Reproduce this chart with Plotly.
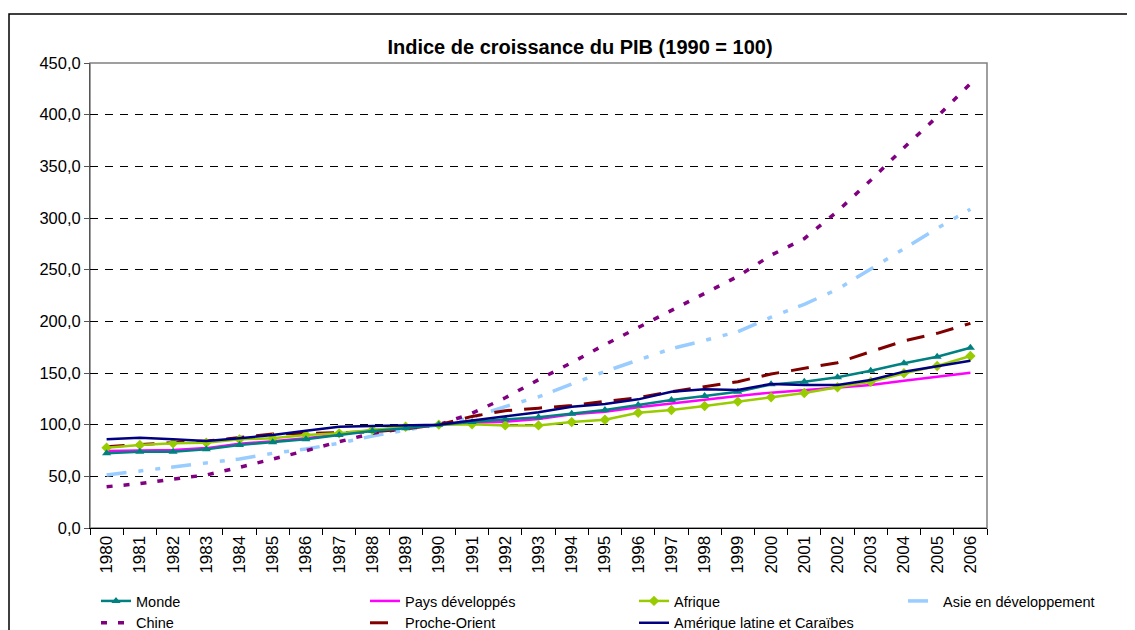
import plotly.graph_objects as go

years = [str(y) for y in range(1980, 2007)]

monde = [72.3, 73.8, 73.8, 76.1, 80.3, 82.9, 85.8, 90.0, 93.9, 96.5, 100.0, 102.5, 105.2, 107.1, 110.5,
         114.2, 119.0, 123.9, 127.7, 131.9, 139.0, 141.6, 145.8, 152.2, 159.4, 165.8, 174.5]
pays_dev = [74.5, 75.0, 75.5, 77.3, 81.5, 84.0, 86.8, 90.5, 94.5, 97.5, 100.0, 101.8, 102.9, 105.5, 110.0,
            112.6, 116.8, 120.6, 124.5, 127.7, 131.0, 133.5, 136.2, 138.4, 142.6, 146.4, 150.3]
afrique = [77.7, 80.3, 82.0, 82.6, 85.8, 86.8, 90.0, 91.6, 94.8, 98.0, 100.0, 100.3, 99.3, 99.3, 102.5,
           104.8, 111.6, 114.2, 118.0, 122.3, 126.5, 130.6, 136.2, 141.6, 149.7, 156.8, 166.5]
asie = [51.3, 55.2, 58.4, 62.6, 66.8, 72.3, 76.5, 82.0, 89.0, 94.8, 100.0, 107.0, 117.5, 127.0, 139.5,
        151.5, 162.5, 173.5, 181.5, 190.0, 204.0, 216.5, 231.0, 250.5, 270.0, 290.0, 308.5]
chine = [40.0, 42.9, 47.4, 51.3, 58.7, 66.5, 74.8, 83.5, 91.6, 96.5, 100.0, 111.0, 126.0, 143.5, 160.0,
         177.5, 194.0, 211.0, 227.0, 243.5, 264.0, 280.0, 306.5, 336.5, 368.0, 398.0, 430.0]
proche = [78.7, 81.0, 82.6, 84.2, 87.7, 91.0, 91.5, 92.5, 93.0, 96.0, 100.0, 108.0, 113.5, 116.0, 118.5,
          122.5, 126.0, 131.9, 136.8, 141.6, 149.0, 154.5, 160.0, 170.6, 181.0, 188.4, 198.0]
amlat = [85.8, 87.4, 85.8, 84.2, 86.8, 90.0, 94.2, 98.0, 98.7, 99.4, 100.0, 104.0, 107.7, 112.0, 117.4,
         120.0, 124.5, 131.9, 134.2, 133.5, 139.4, 138.4, 138.4, 143.2, 151.3, 156.8, 161.9]

ytickvals = [0, 50, 100, 150, 200, 250, 300, 350, 400, 450]
yticktext = ["0,0", "50,0", "100,0", "150,0", "200,0", "250,0", "300,0", "350,0", "400,0", "450,0"]

FONT = "Arial, Liberation Sans, sans-serif"

series = [
    # name, values, color, dash, width, marker, legend
    ("Monde", monde, "#008080", "solid", 2.5, "triangle-up", "legend"),
    ("Chine", chine, "#800080", "6px,11px", 3.5, None, "legend"),
    ("Pays développés", pays_dev, "#FF00FF", "solid", 2.5, None, "legend2"),
    ("Proche-Orient", proche, "#800000", "18px,12px", 3, None, "legend2"),
    ("Afrique", afrique, "#99CC00", "solid", 2.5, "diamond", "legend3"),
    ("Amérique latine et Caraïbes", amlat, "#000080", "solid", 2.5, None, "legend3"),
    ("Asie en développement", asie, "#99CCFF", "20px,12px,5px,12px,5px,11px", 3.5, None, "legend4"),
]

draw_order = ["Asie en développement", "Chine", "Proche-Orient", "Pays développés", "Afrique", "Monde",
              "Amérique latine et Caraïbes"]

fig = go.Figure()
lookup = {s[0]: s for s in series}
ranks = {"Monde": 1, "Chine": 2, "Pays développés": 1, "Proche-Orient": 2, "Afrique": 1,
         "Amérique latine et Caraïbes": 2, "Asie en développement": 1}
for nm in draw_order:
    name, vals, color, dash, width, sym, leg = lookup[nm]
    kw = dict(x=years, y=vals, name=name, legend=leg, legendrank=ranks[name],
              line=dict(color=color, dash=dash, width=width))
    if sym:
        kw["mode"] = "lines+markers"
        kw["marker"] = dict(symbol=sym, size=8, color=color)
    else:
        kw["mode"] = "lines"
    fig.add_trace(go.Scatter(**kw))

# the page body adds an 8 px offset; positions below are given in page pixels
OFF = 8
W, H = 1135, 630
L = 90 - OFF
T = 63 - OFF
B = H - (528 - OFF)
pw = 897
R = W - L - pw
ph = H - T - B

def px2x(px):
    return (px - OFF - L) / pw

def py2y(py):
    return (H - B - (py - OFF)) / ph

legfont = dict(family=FONT, size=14.5, color="black")
leg_y = py2y(585)
leg_common = dict(orientation="v", yanchor="top", xanchor="left", font=legfont,
                  bgcolor="rgba(0,0,0,0)", traceorder="normal", itemwidth=30)

fig.update_layout(
    width=W, height=H,
    margin=dict(l=L, r=R, t=T, b=B, autoexpand=False),
    paper_bgcolor="white", plot_bgcolor="white",
    title=dict(text="<b>Indice de croissance du PIB (1990 = 100)</b>",
               font=dict(family=FONT, size=20, color="black"),
               x=(580 - OFF) / W, xref="container", xanchor="center",
               y=1 - (47 - OFF) / H, yref="container", yanchor="middle"),
    legend=dict(x=px2x(96), y=leg_y, **leg_common),
    legend2=dict(x=px2x(365), y=leg_y, **leg_common),
    legend3=dict(x=px2x(634), y=leg_y, **leg_common),
    legend4=dict(x=px2x(903), y=leg_y, **leg_common),
    xaxis=dict(type="category", tickangle=-90, tickson="boundaries", ticks="outside", ticklen=6,
               tickcolor="black", showline=True, linecolor="black", linewidth=1,
               showgrid=False, tickfont=dict(family=FONT, size=17, color="black"),
               range=[-0.5, len(years) - 0.5]),
    yaxis=dict(range=[0, 450], tickvals=ytickvals, ticktext=yticktext, ticks="outside", ticklen=5,
               tickcolor="#555555", showline=True, linecolor="#555555", linewidth=1,
               showgrid=True, gridcolor="black", gridwidth=1, griddash="8px,7px",
               zeroline=False, tickfont=dict(family=FONT, size=16.5, color="black")),
    showlegend=True,
)

fig.add_shape(type="rect", xref="paper", yref="paper", x0=0, x1=1, y0=0, y1=1,
              line=dict(color="#808080", width=1.5), layer="below")
fig.add_shape(type="rect", xref="paper", yref="paper", x0=px2x(9), x1=px2x(1170), y0=py2y(720),
              y1=py2y(14), line=dict(color="black", width=1.5), layer="below")

fig.write_html("out.html")
